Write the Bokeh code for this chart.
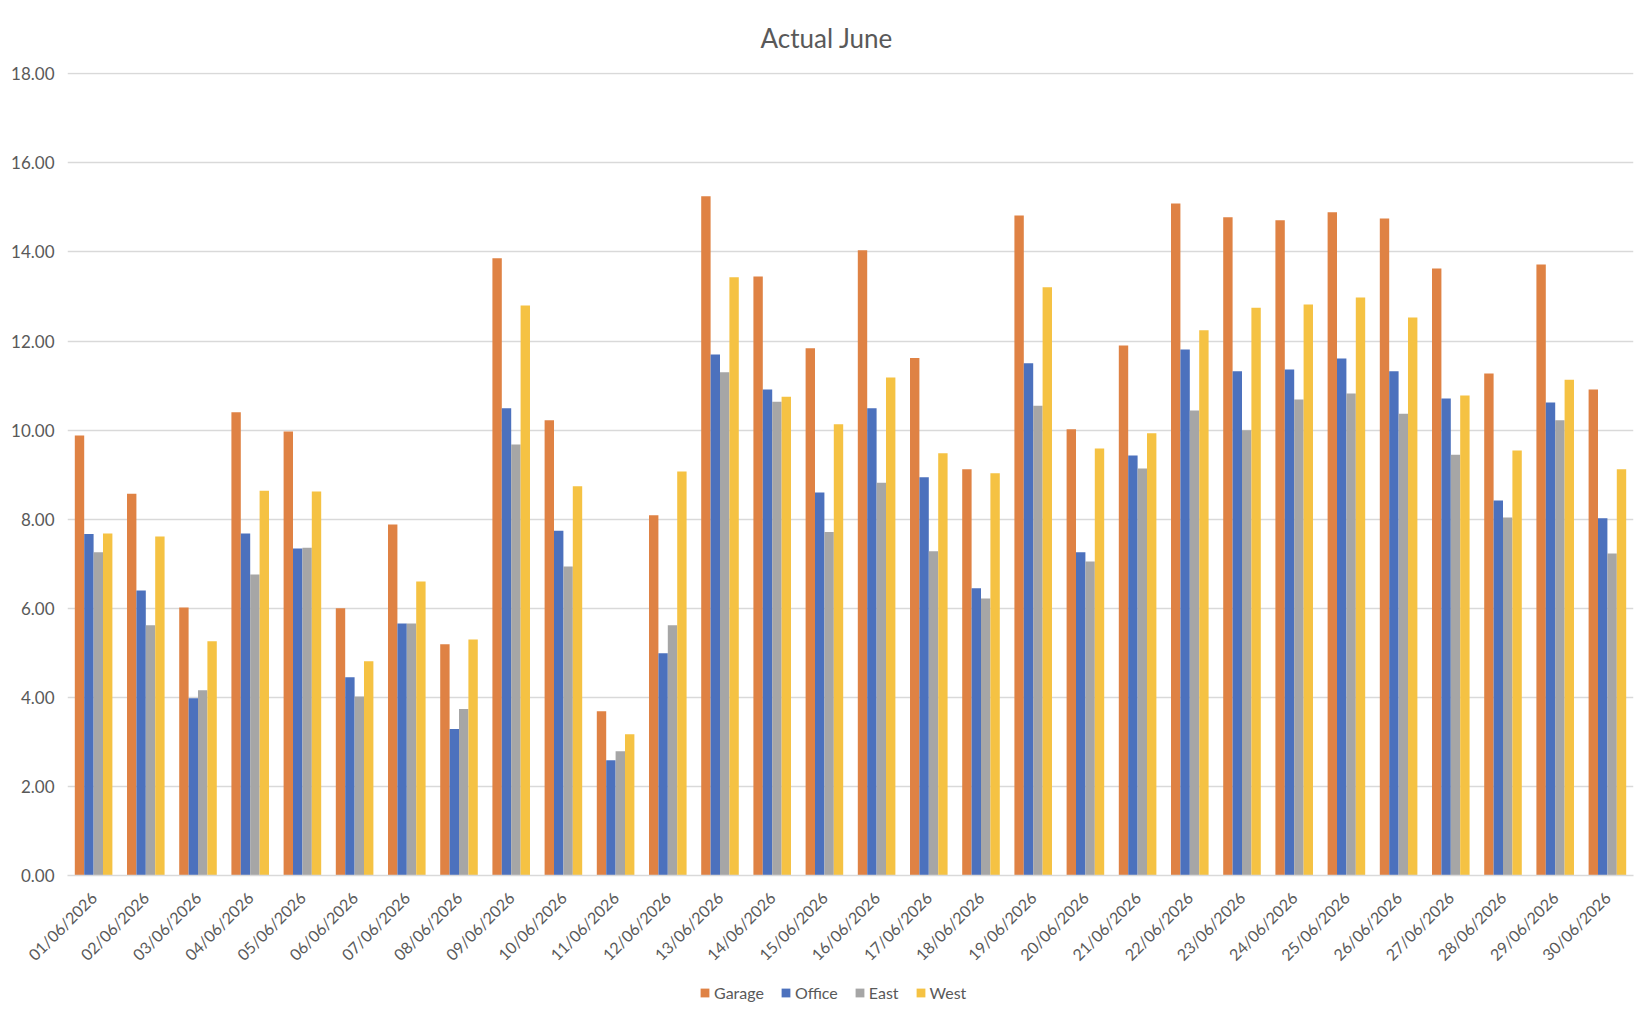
import math
from bokeh.plotting import figure
from bokeh.layouts import column
from bokeh.models import (ColumnDataSource, FactorRange, Range1d, FixedTicker,
                          NumeralTickFormatter, Legend, LegendItem)
from bokeh.transform import dodge
from bokeh.embed import file_html
from bokeh.resources import INLINE

dates = ["01/06/2026", "02/06/2026", "03/06/2026", "04/06/2026", "05/06/2026",
         "06/06/2026", "07/06/2026", "08/06/2026", "09/06/2026", "10/06/2026",
         "11/06/2026", "12/06/2026", "13/06/2026", "14/06/2026", "15/06/2026",
         "16/06/2026", "17/06/2026", "18/06/2026", "19/06/2026", "20/06/2026",
         "21/06/2026", "22/06/2026", "23/06/2026", "24/06/2026", "25/06/2026",
         "26/06/2026", "27/06/2026", "28/06/2026", "29/06/2026", "30/06/2026"]

garage = [9.88, 8.57, 6.02, 10.40, 9.97, 6.00, 7.88, 5.19, 13.86, 10.22,
          3.69, 8.09, 15.25, 13.45, 11.84, 14.04, 11.62, 9.12, 14.82, 10.02,
          11.90, 15.09, 14.78, 14.71, 14.89, 14.75, 13.63, 11.27, 13.72, 10.91]
office = [7.67, 6.40, 3.98, 7.68, 7.34, 4.45, 5.66, 3.29, 10.49, 7.74,
          2.59, 4.99, 11.70, 10.91, 8.60, 10.49, 8.94, 6.45, 11.50, 7.26,
          9.43, 11.81, 11.32, 11.36, 11.61, 11.32, 10.71, 8.42, 10.62, 8.02]
east = [7.26, 5.62, 4.16, 6.76, 7.36, 4.02, 5.66, 3.74, 9.68, 6.94,
        2.79, 5.62, 11.30, 10.64, 7.71, 8.82, 7.28, 6.22, 10.55, 7.05,
        9.14, 10.44, 10.00, 10.69, 10.82, 10.37, 9.45, 8.04, 10.22, 7.23]
west = [7.68, 7.61, 5.26, 8.64, 8.62, 4.81, 6.60, 5.30, 12.80, 8.74,
        3.17, 9.07, 13.43, 10.75, 10.13, 11.18, 9.48, 9.03, 13.21, 9.59,
        9.93, 12.24, 12.75, 12.82, 12.98, 12.53, 10.78, 9.54, 11.13, 9.12]

series_names = ["Garage", "Office", "East", "West"]
series_keys = ["garage", "office", "east", "west"]
series_colors = ["#DF8244", "#4C71BD", "#A6A6A6", "#F5C243"]
y_ticks = [0, 2, 4, 6, 8, 10, 12, 14, 16, 18]

src = ColumnDataSource(dict(date=dates, garage=garage, office=office, east=east, west=west))

FONT = "Lato"
TXT = "#595959"

p = figure(width=1643, height=976, x_range=FactorRange(*dates), y_range=Range1d(0, 18.03),
           output_backend="svg", toolbar_location=None,
           min_border_left=67, min_border_right=10, min_border_top=72, min_border_bottom=101)

p.title.text = "Actual June"
p.title.align = "left"
p.title.offset = 693
p.title.standoff = 38
p.title.text_font = FONT
p.title.text_font_size = "26px"
p.title.text_font_style = "normal"
p.title.text_color = TXT

offsets = [-0.27, -0.09, 0.09, 0.27]
for key, col, off in zip(series_keys, series_colors, offsets):
    p.vbar(x=dodge("date", off, range=p.x_range), top=key, width=0.18, bottom=0,
           source=src, fill_color=col, line_color=None)

p.outline_line_color = None
p.xgrid.grid_line_color = None
p.ygrid.grid_line_color = "#D9D9D9"
p.ygrid.grid_line_width = 1.5
p.ygrid.ticker = FixedTicker(ticks=y_ticks)

p.yaxis.ticker = FixedTicker(ticks=y_ticks)
p.yaxis.formatter = NumeralTickFormatter(format="0.00")
p.yaxis.axis_line_color = None
p.yaxis.major_tick_line_color = None
p.yaxis.minor_tick_line_color = None
p.yaxis.major_tick_out = 0
p.yaxis.major_tick_in = 0
p.yaxis.major_label_text_font = FONT
p.yaxis.major_label_text_font_size = "17px"
p.yaxis.major_label_text_color = TXT
p.yaxis.major_label_standoff = 13

p.xaxis.axis_line_color = "#D9D9D9"
p.xaxis.axis_line_width = 1.5
p.xaxis.major_tick_line_color = None
p.xaxis.minor_tick_line_color = None
p.xaxis.major_tick_out = 0
p.xaxis.major_tick_in = 0
p.xaxis.major_label_orientation = math.pi / 4
p.xaxis.major_label_text_font = FONT
p.xaxis.major_label_text_font_size = "16px"
p.xaxis.major_label_text_color = TXT
p.xaxis.major_label_standoff = 19
p.x_range.range_padding = 0
p.x_range.group_padding = 0

# legend strip below the chart (proxy renderers sit outside the visible range)
leg = figure(width=1643, height=30, x_range=(0, 1), y_range=(0, 1),
             x_axis_type=None, y_axis_type=None, output_backend="svg",
             toolbar_location=None, min_border=0)
leg.outline_line_color = None
proxy = ColumnDataSource(dict(x=[-5.0], top=[0.0]))
leg_renderers = []
for col in series_colors:
    leg_renderers.append(leg.vbar(x="x", top="top", width=0.1, source=proxy,
                                  fill_color=col, line_color=None))

legend = Legend(items=[LegendItem(label=n, renderers=[r]) for n, r in zip(series_names, leg_renderers)],
                orientation="horizontal", location=(632, 4))
legend.label_text_font = FONT
legend.label_text_font_size = "16px"
legend.label_text_color = TXT
legend.glyph_width = 11
legend.glyph_height = 11
legend.label_standoff = 4
legend.spacing = 16
legend.padding = 0
legend.margin = 0
legend.border_line_color = None
legend.background_fill_alpha = 0
leg.add_layout(legend, "center")

layout = column(p, leg, spacing=0)
open("out.html", "w").write(file_html(layout, INLINE))
